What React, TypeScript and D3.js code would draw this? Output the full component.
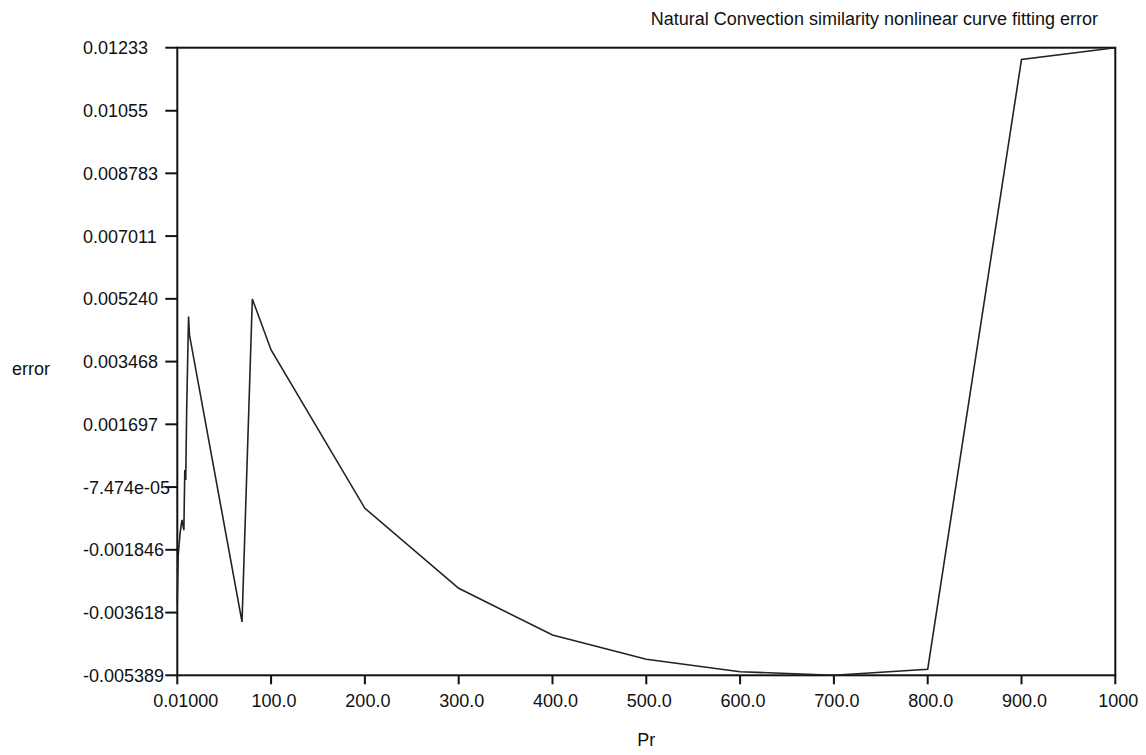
import React from 'react';
import * as d3 from 'd3';

// Pr values and fitting error
const prValues = [0.01, 1, 3, 5, 7, 8, 9, 10, 12, 13, 69, 80, 100, 200, 300, 400, 500, 600, 700, 800, 900, 1000];
const errorValues = [
  -0.00334, -0.00199, -0.00137, -0.001004, -0.00129, 0.000407, 0.000125, 0.0021, 0.00474, 0.004218,
  -0.00388, 0.005235, 0.003795, -0.000674, -0.002933, -0.004252, -0.004937, -0.005288, -0.005389,
  -0.00522, 0.012, 0.01233,
];

const xTicks = [0.01, 100, 200, 300, 400, 500, 600, 700, 800, 900, 1000];
const xTickLabels = ['0.01000', '100.0', '200.0', '300.0', '400.0', '500.0', '600.0', '700.0', '800.0', '900.0', '1000'];
const yTickLabels = [
  '0.01233', '0.01055', '0.008783', '0.007011', '0.005240', '0.003468', '0.001697',
  '-7.474e-05', '-0.001846', '-0.003618', '-0.005389',
];
const yTicks = yTickLabels.map(s => parseFloat(s));

const title = 'Natural Convection similarity nonlinear curve fitting error';
const xTitle = 'Pr';
const yTitle = 'error';

const W = 1146;
const H = 755;
const left = 177.3;
const right = 1115.3;
const top = 47.7;
const bottom = 675.3;
const font = '"Liberation Sans", Arial, sans-serif';

const App = () => {
  const x = d3.scaleLinear().domain([0.01, 1000]).range([left, right]);
  const y = d3.scaleLinear().domain([-0.005389, 0.01233]).range([bottom, top]);

  const line = d3.line<number>()
    .x((d, i) => x(prValues[i]))
    .y(d => y(d));

  return (
    <svg width={W} height={H} style={{ position: 'fixed', left: 0, top: 0, background: '#fff' }}
      fontFamily={font} fontSize={18} fill="#111">
      <text x={1098} y={25} textAnchor="end">{title}</text>

      {/* frame */}
      <rect x={left} y={top} width={right - left} height={bottom - top} fill="none" stroke="#111" strokeWidth={2} />

      {/* y ticks */}
      {yTicks.map((t, i) => (
        <g key={'y' + i}>
          <line x1={left - 12} x2={left} y1={y(t)} y2={y(t)} stroke="#111" strokeWidth={2} />
          <text x={83} y={y(t) + 6.5}>{yTickLabels[i]}</text>
        </g>
      ))}

      {/* x ticks */}
      {xTicks.map((t, i) => (
        <g key={'x' + i}>
          <line x1={x(t)} x2={x(t)} y1={bottom} y2={bottom + 9} stroke="#111" strokeWidth={2} />
          {i === 0
            ? <text x={x(t) - 24} y={706.7}>{xTickLabels[i]}</text>
            : <text x={x(t) + 3} y={706.7} textAnchor="middle">{xTickLabels[i]}</text>}
        </g>
      ))}

      <text x={(left + right) / 2} y={746} textAnchor="middle">{xTitle}</text>
      <text x={12} y={375}>{yTitle}</text>

      <path d={line(errorValues) || ''} fill="none" stroke="#222" strokeWidth={1.6} strokeLinejoin="miter" />
    </svg>
  );
};

export default App;
